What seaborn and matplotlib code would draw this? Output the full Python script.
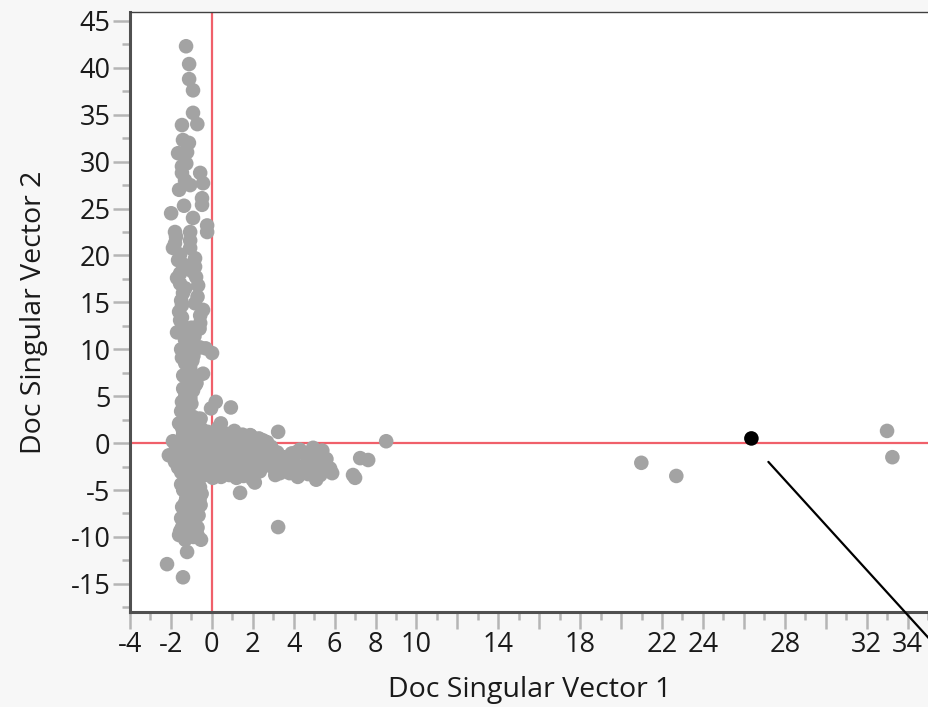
import matplotlib
matplotlib.use("Agg")
import matplotlib.pyplot as plt
from matplotlib.ticker import MultipleLocator
import seaborn as sns
import pandas as pd

# ---- data ----
band_up_x = [-1.26, -1.11, -1.11, -0.92, -0.92, -0.71, -1.46, -1.41, -1.12, -1.65, -1.21, -1.46, -1.46, -0.57,
             -1.31, -0.43, -1.06, -0.48, -0.48, -1.36, -1.99, -0.92, -0.23, -0.23, -1.80, -1.06, -1.80, -1.06,
             -1.90, -1.06, -1.65, -0.82, -1.55, -0.82, -0.77, -1.55, -0.67, -1.41, -0.82, -0.43, -1.46, -1.46,
             -0.57, -1.55, -1.70, -1.21, -0.57, -1.31, -0.58, 0.01, -1.46, -1.06, -0.43, -0.97, -0.92, -1.46,
             -1.31, 0.19, -0.04, 0.93, -0.92, 0.44, 3.24, -1.36, -1.50, -1.00, -1.20, -0.90, -1.00, -1.10,
             -1.30, -1.20, -1.00, -1.40, -0.80, -1.20, -1.30, -0.90, -1.50, -0.30, -1.60, -1.25,
             -1.75, -1.55, -1.40, -0.95, -1.70, -1.30, -0.70, -1.60, -0.60, -1.45, -0.85, -1.15, -1.35,
             -0.95, -1.10, -1.40, -0.75, -1.25, -1.05, -1.50, -1.15, -0.65, -1.35, -1.05]
band_up_y = [42.3, 40.4, 38.8, 37.6, 35.2, 34.0, 33.9, 32.3, 32.0, 30.9, 31.0, 29.5, 28.8, 28.8,
             28.0, 27.7, 27.5, 26.1, 25.4, 25.3, 24.5, 24.0, 23.2, 22.5, 22.5, 22.5, 21.3, 21.6,
             20.8, 20.8, 19.5, 19.7, 18.1, 18.8, 17.7, 17.0, 16.8, 16.0, 14.9, 14.2, 14.7, 13.4,
             13.6, 13.1, 11.8, 11.8, 12.8, 11.0, 10.2, 9.6, 9.1, 8.1, 7.4, 6.7, 5.6, 4.4,
             3.8, 4.4, 3.7, 3.8, 2.8, 2.1, 1.2, 19.0, 15.2, 12.3, 10.3, 9.3, 7.5, 6.0,
             5.0, 3.0, 4.2, 5.8, 6.2, 7.0, 8.5, 10.5, 10.0, 10.1, 27.0, 29.8,
             22.0, 20.1, 18.6, 18.3, 17.6, 16.5, 15.6, 14.0, 12.2, 12.6, 11.4, 10.7, 9.7,
             8.8, 7.8, 7.2, 6.4, 5.4, 4.8, 3.4, 3.2, 2.6, 2.4, 9.9]

core_x = [-1.6, -1.2, -0.8, -0.5, -1.4, -1.0, -0.6, -0.2, 0.3, 0.7, 1.1, 1.5, 1.9, 2.3, 2.6,
          -1.9, -1.5, -1.1, -0.7, -0.3, 0.1, 0.5, 0.9, 1.3, 1.7, 2.1, 2.5,
          -2.1, -1.7, -1.3, -0.9, -0.5, -0.1, 0.3, 0.7, 1.1, 1.5, 1.9, 2.3, 2.8,
          -1.8, -1.4, -1.0, -0.6, -0.2, 0.2, 0.6, 1.0, 1.4, 1.8, 2.2, 2.6,
          -1.5, -1.1, -0.7, -0.3, 0.1, 0.5, 1.2, 2.0, 3.0, 3.4,
          -1.35, -0.95, -0.45, 0.05, 0.45, 0.85, 1.25, 1.65, 2.05,
          -1.75, -1.25, -0.85, -0.35, 0.15, 0.55, 0.95, 1.35, 1.75, 2.15,
          -1.55, -1.05, -0.65, -0.15, 0.35, 0.75, 1.15, 1.55, 1.95, 2.45,
          -1.65, -1.15, -0.75, -0.25, 0.25, 0.65, 1.05, 1.45, 1.85, 2.35,
          -1.25, -0.85, -0.45, 0.05, 0.45, 0.85, 1.55, -1.45, -0.95, -0.55]
core_y = [2.1, 1.8, 2.4, 1.5, 1.0, 0.7, 0.9, 1.2, 1.6, 1.0, 1.3, 0.9, 0.8, 0.5, 0.0,
          0.2, -0.2, 0.1, -0.3, 0.2, -0.1, 0.3, -0.2, 0.2, -0.3, -0.1, -0.6,
          -1.3, -0.9, -1.2, -0.8, -1.4, -1.0, -1.3, -0.9, -1.2, -0.8, -1.3, -1.6, -1.2,
          -2.0, -2.3, -1.9, -2.4, -2.0, -2.2, -2.5, -2.0, -2.6, -2.2, -2.7, -2.4,
          -3.1, -2.9, -3.3, -3.0, -3.4, -3.0, -3.2, -3.3, -2.1, -2.9,
          1.4, 1.2, 0.6, 0.8, 0.9, 0.5, 0.7, 0.4, 0.3,
          -0.5, -0.6, 0.4, -0.7, -0.5, -0.6, -0.5, -0.4, -0.8, -0.7,
          -1.6, -1.5, -1.8, -1.5, -1.7, -1.6, -1.7, -1.6, -1.8, -2.0,
          -2.6, -2.5, -2.8, -2.6, -2.8, -2.9, -2.7, -3.0, -2.8, -3.0,
          -3.6, -3.7, -3.5, -3.7, -3.6, -3.4, -3.5, 1.6, 2.0, 2.6]

arm_x = [1.87, 2.7, 3.2, 3.5, 3.33, 3.8, 4.3, 4.95, 5.4, 4.46, 5.1, 5.78, 5.88, 4.8, 4.2, 5.44,
         2.0, 1.2, 2.36, 4.0, 4.6, 5.2, 3.9, 4.7, 3.0, 7.25, 7.64, 6.9, 7.0, 8.52, 3.24, 1.38, 2.1,
         2.9, 3.6, 4.4, 5.0, 5.6, 4.1, 3.7, 4.9, 5.3, 2.5, 3.1]
arm_y = [0.85, 0.1, -1.0, -1.5, -3.2, -3.2, -0.7, -0.5, -0.8, -2.5, -3.9, -2.7, -3.2, -2.1, -3.6, -2.1,
         -3.9, -3.7, -1.1, -2.0, -1.3, -1.5, -1.1, -3.3, -2.6, -1.6, -1.8, -3.4, -3.7, 0.2, -8.95, -5.3, -4.2,
         -0.4, -2.4, -2.8, -2.9, -1.7, -1.0, -3.0, -1.1, -3.4, 0.3, -3.4]

band_low_x = [-0.58, -0.92, -1.31, -1.46, -0.87, -0.53, -1.60, -1.06, -1.21, -2.19, -1.41,
              -1.2, -0.8, -1.4, -1.0, -0.6, -1.3, -0.8, -1.5, -1.1, -0.7, -1.3, -0.9, -0.5, -1.5,
              -1.05, -0.75, -1.25, -0.55, -1.45, -0.95, -1.15, -0.65, -1.35, -0.85, -1.55, -0.70]
band_low_y = [-4.7, -6.8, -7.5, -9.0, -8.2, -10.3, -9.8, -9.3, -11.6, -12.9, -14.3,
              -4.0, -4.4, -5.0, -5.6, -6.0, -6.3, -7.2, -8.0, -8.6, -9.0, -10.3, -10.0, -5.4, -4.4,
              -4.9, -5.1, -5.9, -6.6, -6.8, -6.4, -7.0, -7.7, -8.3, -8.7, -9.4, -9.8]

far_x = [20.99, 22.7, 33.0, 33.26]
far_y = [-2.1, -3.5, 1.3, -1.5]

highlight_x = [26.37]
highlight_y = [0.5]

# annotation pointer line (leaves the plot at the lower right)
pointer_x = [27.2, 35.5]
pointer_y = [-2.0, -21.9]

x_shown = [-4, -2, 0, 2, 4, 6, 8, 10, 14, 18, 22, 24, 28, 32, 34]

gray = pd.DataFrame({
    "x": band_up_x + core_x + arm_x + band_low_x + far_x,
    "y": band_up_y + core_y + arm_y + band_low_y + far_y,
})
hi = pd.DataFrame({"x": highlight_x, "y": highlight_y})

sns.set_theme(style="white")
plt.rcParams["font.family"] = ["Open Sans", "DejaVu Sans"]
plt.rcParams["axes.unicode_minus"] = False

fig = plt.figure(figsize=(9.29, 7.07), dpi=100, facecolor="#f7f7f7")
ax = fig.add_axes([130 / 929, 1 - 612 / 707, 799 / 929, 600 / 707])
ax.set_facecolor("white")

ax.axhline(0, color="#f0606a", lw=1.6, zorder=1)
ax.axvline(0, color="#f0606a", lw=1.6, zorder=1)

sns.scatterplot(data=gray, x="x", y="y", ax=ax, color="#a3a3a3", s=110,
                edgecolor="none", linewidth=0, zorder=3, legend=False)
sns.scatterplot(data=hi, x="x", y="y", ax=ax, color="black", s=110,
                edgecolor="none", linewidth=0, zorder=4, legend=False)

ax.plot(pointer_x, pointer_y, color="black", lw=1.6, clip_on=False, zorder=5)

ax.set_xlim(-4, 35.05)
ax.set_ylim(-18, 45.95)

xt = list(range(-4, 35, 2))
ax.set_xticks(xt)
ax.set_xticklabels([str(v) if v in x_shown else "" for v in xt])
ax.xaxis.set_minor_locator(MultipleLocator(1))
ax.set_yticks(list(range(-15, 46, 5)))
ax.yaxis.set_minor_locator(MultipleLocator(2.5))

ax.tick_params(axis="both", which="major", length=12, width=1.8, color="#b5b5b5",
               labelsize=19.5, labelcolor="#1a1a1a", pad=2, direction="out",
               bottom=True, left=True)
ax.tick_params(axis="both", which="minor", length=6, width=1.8, color="#b5b5b5",
               direction="out", bottom=True, left=True)

for side in ["left", "bottom"]:
    ax.spines[side].set_color("#505050")
    ax.spines[side].set_linewidth(2.2)
ax.spines["top"].set_color("#404040")
ax.spines["top"].set_linewidth(1.0)
ax.spines["right"].set_color("#d0d0d0")
ax.spines["right"].set_linewidth(1.0)

ax.set_xlabel("Doc Singular Vector 1", fontsize=20.5, color="#1a1a1a", labelpad=12)
ax.set_ylabel("Doc Singular Vector 2", fontsize=20.5, color="#1a1a1a", labelpad=16)

fig.savefig("out.png", dpi=100, facecolor=fig.get_facecolor())
